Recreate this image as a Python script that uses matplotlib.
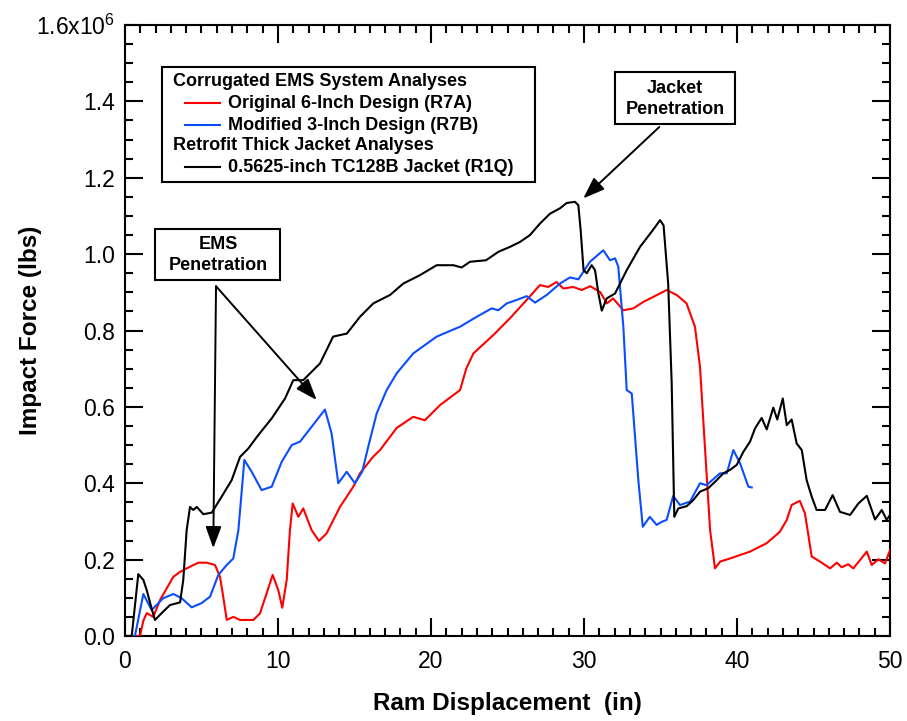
import matplotlib
matplotlib.use("Agg")
import matplotlib.pyplot as plt
from matplotlib.patches import Rectangle
from matplotlib.ticker import MultipleLocator

plt.rcParams['font.family'] = ['Liberation Sans', 'DejaVu Sans']
plt.rcParams['mathtext.default'] = 'regular'

# force in units of 1e6 lbs, displacement in inches
disp_r7a = [0, 0.98, 1.2, 1.42, 1.85, 2.29, 2.8, 3.16, 3.6, 4.03,
            4.79, 5.34, 5.88, 6.21, 6.42, 6.65, 7.08, 7.52, 8.39, 8.82,
            9.26, 9.65, 10.02, 10.28, 10.57, 10.78, 10.96, 11.33, 11.65, 12.2,
            12.68, 13.18, 14.05, 14.92, 15.36, 16.23, 16.67, 17.76, 18.84, 19.6,
            20.6, 21.9, 22.3, 22.77, 24.07, 25.16, 26.25, 27.12, 27.67, 28.2,
            28.65, 29.3, 29.85, 30.4, 31.05, 31.5, 31.9, 32.57, 33.22, 33.88,
            34.53, 35.4, 36.06, 36.7, 37.25, 37.58, 37.9, 38.24, 38.56, 38.9,
            39.54, 40.85, 41.94, 42.8, 43.25, 43.57, 44.1, 44.44, 44.88, 45.42,
            46.08, 46.52, 46.84, 47.27, 47.6, 48.04, 48.48, 48.8, 49.24, 49.67,
            50]
force_r7a = [0, 0, 0.04, 0.06, 0.05, 0.094, 0.13, 0.155, 0.168, 0.177,
             0.192, 0.192, 0.186, 0.155, 0.103, 0.042, 0.05, 0.042, 0.042, 0.059,
             0.112, 0.16, 0.12, 0.074, 0.147, 0.277, 0.347, 0.312, 0.334, 0.277,
             0.249, 0.269, 0.338, 0.391, 0.426, 0.47, 0.487, 0.545, 0.574, 0.565,
             0.605, 0.644, 0.70, 0.74, 0.788, 0.832, 0.88, 0.919, 0.914, 0.927,
             0.91, 0.914, 0.906, 0.916, 0.901, 0.871, 0.884, 0.853, 0.858, 0.875,
             0.888, 0.906, 0.893, 0.871, 0.81, 0.705, 0.496, 0.277, 0.177, 0.195,
             0.203, 0.221, 0.243, 0.273, 0.304, 0.343, 0.354, 0.321, 0.208, 0.195,
             0.177, 0.192, 0.18, 0.188, 0.177, 0.199, 0.221, 0.186, 0.201, 0.19,
             0.225]

disp_r7b = [0, 0.65, 1.2, 1.74, 2.5, 3.16, 3.7, 4.36, 5.0, 5.56,
            6.1, 6.65, 7.08, 7.41, 7.69, 7.8, 8.28, 8.93, 9.59, 10.24,
            10.9, 11.44, 12.2, 13.07, 13.5, 13.94, 14.49, 15.03, 15.5, 15.9,
            16.45, 17.1, 17.76, 18.84, 20.37, 21.9, 22.99, 23.97, 24.4, 24.95,
            25.6, 26.25, 26.8, 27.56, 28.43, 29.08, 29.63, 30.39, 31.26, 31.7,
            32.03, 32.24, 32.57, 32.79, 33.12, 33.55, 33.84, 34.3, 34.75, 35.08,
            35.4, 35.83, 36.27, 36.93, 37.58, 38.0, 38.89, 39.33, 39.76, 40.2,
            40.74, 40.96]
force_r7b = [0, 0, 0.11, 0.068, 0.099, 0.11, 0.099, 0.075, 0.086, 0.103,
             0.16, 0.186, 0.203, 0.277, 0.408, 0.461, 0.43, 0.382, 0.391, 0.456,
             0.5, 0.509, 0.548, 0.593, 0.531, 0.4, 0.43, 0.4, 0.43, 0.496,
             0.583, 0.644, 0.688, 0.74, 0.784, 0.81, 0.836, 0.858, 0.853, 0.871,
             0.88, 0.89, 0.873, 0.893, 0.923, 0.939, 0.934, 0.98, 1.01, 0.984,
             0.989, 0.967, 0.81, 0.644, 0.635, 0.408, 0.286, 0.312, 0.291, 0.299,
             0.304, 0.367, 0.343, 0.352, 0.4, 0.395, 0.426, 0.426, 0.487, 0.452,
             0.391, 0.389]

disp_r1q = [0, 0.44, 0.87, 1.2, 1.42, 1.74, 1.96, 2.5, 2.94, 3.6,
            3.81, 4.03, 4.25, 4.46, 4.69, 5.12, 5.67, 6.32, 6.97, 7.52,
            8.06, 8.71, 9.59, 10.46, 11.0, 11.65, 12.75, 13.6, 14.5, 15.36,
            16.23, 17.32, 18.19, 19.28, 20.37, 21.46, 22.0, 22.55, 23.6, 24.4,
            25.16, 25.82, 26.47, 27.12, 27.78, 28.43, 28.87, 29.41, 29.63, 29.78,
            29.97, 30.18, 30.5, 30.72, 30.94, 31.16, 31.48, 32.03, 32.79, 33.66,
            34.5, 34.97, 35.2, 35.5, 35.73, 35.9, 36.16, 36.71, 37.14, 37.58,
            38.12, 38.67, 39.1, 39.54, 39.98, 40.41, 40.85, 41.18, 41.61, 41.94,
            42.37, 42.63, 42.99, 43.25, 43.57, 43.9, 44.23, 44.55, 44.88, 45.2,
            45.75, 46.25, 46.73, 47.39, 47.93, 48.48, 49.02, 49.46, 49.78, 50]
force_r1q = [0, 0, 0.162, 0.147, 0.12, 0.072, 0.042, 0.064, 0.081, 0.088,
             0.147, 0.277, 0.338, 0.33, 0.338, 0.319, 0.323, 0.365, 0.408, 0.469,
             0.491, 0.526, 0.57, 0.622, 0.67, 0.67, 0.714, 0.784, 0.792, 0.836,
             0.871, 0.893, 0.923, 0.945, 0.971, 0.971, 0.965, 0.98, 0.984, 1.006,
             1.019, 1.032, 1.05, 1.08, 1.106, 1.12, 1.134, 1.137, 1.128, 1.063,
             0.958, 0.95, 0.971, 0.958, 0.897, 0.852, 0.884, 0.897, 0.958, 1.019,
             1.063, 1.089, 1.075, 0.923, 0.662, 0.312, 0.334, 0.34, 0.356, 0.378,
             0.387, 0.408, 0.426, 0.435, 0.448, 0.482, 0.509, 0.544, 0.571, 0.541,
             0.598, 0.567, 0.622, 0.552, 0.567, 0.504, 0.487, 0.408, 0.365, 0.33,
             0.33, 0.369, 0.325, 0.317, 0.347, 0.367, 0.305, 0.33, 0.304, 0.317]

y_ticks = [0.0, 0.2, 0.4, 0.6, 0.8, 1.0, 1.2, 1.4, 1.6]
y_ticklabels = ['0.0', '0.2', '0.4', '0.6', '0.8', '1.0', '1.2', '1.4', '1.6x10$^6$']

fig = plt.figure(figsize=(9.07, 7.21), dpi=100)
ax = fig.add_axes([0.1378, 0.1179, 0.8435, 0.8474])

ax.plot(disp_r7a, force_r7a, color='#ff0000', lw=1.5, zorder=3)
ax.plot(disp_r7b, force_r7b, color='#0a4dff', lw=1.5, zorder=3)
ax.plot(disp_r1q, force_r1q, color='black', lw=1.5, zorder=3)

ax.set_xlim(0, 50)
ax.set_ylim(0, 1.6)
ax.xaxis.set_major_locator(MultipleLocator(10))
ax.xaxis.set_minor_locator(MultipleLocator(1))
ax.set_yticks(y_ticks)
ax.set_yticklabels(y_ticklabels)
ax.yaxis.set_minor_locator(MultipleLocator(0.05))
ax.tick_params(which='both', direction='in', top=True, right=True, width=1.5, labelsize=16.5)
ax.tick_params(which='major', length=13)
ax.tick_params(which='minor', length=6)
ax.tick_params(axis='x', pad=10)
ax.tick_params(axis='y', pad=7)
for s in ax.spines.values():
    s.set_linewidth(1.5)

ax.set_xlabel('Ram Displacement  (in)', fontsize=17.5, fontweight='bold')
ax.set_ylabel('Impact Force (lbs)', fontsize=17.5, fontweight='bold')
ax.xaxis.set_label_coords(0.5, -0.092)
ax.yaxis.set_label_coords(-0.108, 0.5)

# legend box
ax.add_patch(Rectangle((0.0488, 0.7435), 0.4872, 0.1883, transform=ax.transAxes,
                       facecolor='white', edgecolor='black', lw=1.5, zorder=5))
rows = [0.9072, 0.8718, 0.8363, 0.8036, 0.7671]
lkw = dict(transform=ax.transAxes, fontsize=13, fontweight='bold', va='center', zorder=6)
ax.text(0.0623, rows[0], 'Corrugated EMS System Analyses', **lkw)
ax.text(0.1350, rows[1], 'Original 6-Inch Design (R7A)', **lkw)
ax.text(0.1350, rows[2], 'Modified 3-Inch Design (R7B)', **lkw)
ax.text(0.0623, rows[3], 'Retrofit Thick Jacket Analyses', **lkw)
ax.text(0.1350, rows[4], '0.5625-inch TC128B Jacket (R1Q)', **lkw)
for r, c in [(rows[1], '#ff0000'), (rows[2], '#0a4dff'), (rows[4], 'black')]:
    ax.plot([0.0784, 0.1242], [r, r], transform=ax.transAxes, color=c, lw=1.5, zorder=6)

# annotation boxes
ax.add_patch(Rectangle((1.96, 0.932), 8.17, 0.135, facecolor='white',
                       edgecolor='black', lw=1.5, zorder=5))
ax.text(6.08, 0.998, 'EMS\nPenetration', ha='center', va='center', fontsize=13,
        fontweight='bold', linespacing=1.3, zorder=6)
ax.add_patch(Rectangle((32.03, 1.342), 7.84, 0.135, facecolor='white',
                       edgecolor='black', lw=1.5, zorder=5))
ax.text(35.95, 1.407, 'Jacket\nPenetration', ha='center', va='center', fontsize=13,
        fontweight='bold', linespacing=1.3, zorder=6)

akw = dict(arrowstyle='-|>,head_length=0.6,head_width=0.22', color='black', lw=1.4,
           mutation_scale=22, shrinkA=0, shrinkB=0)
ax.annotate('', xy=(5.77, 0.23), xytext=(5.95, 0.916), arrowprops=akw, zorder=4)
ax.annotate('', xy=(12.53, 0.618), xytext=(5.95, 0.916), arrowprops=akw, zorder=4)
ax.annotate('', xy=(29.95, 1.146), xytext=(34.92, 1.333), arrowprops=akw, zorder=4)

fig.savefig('out.png', dpi=100)
